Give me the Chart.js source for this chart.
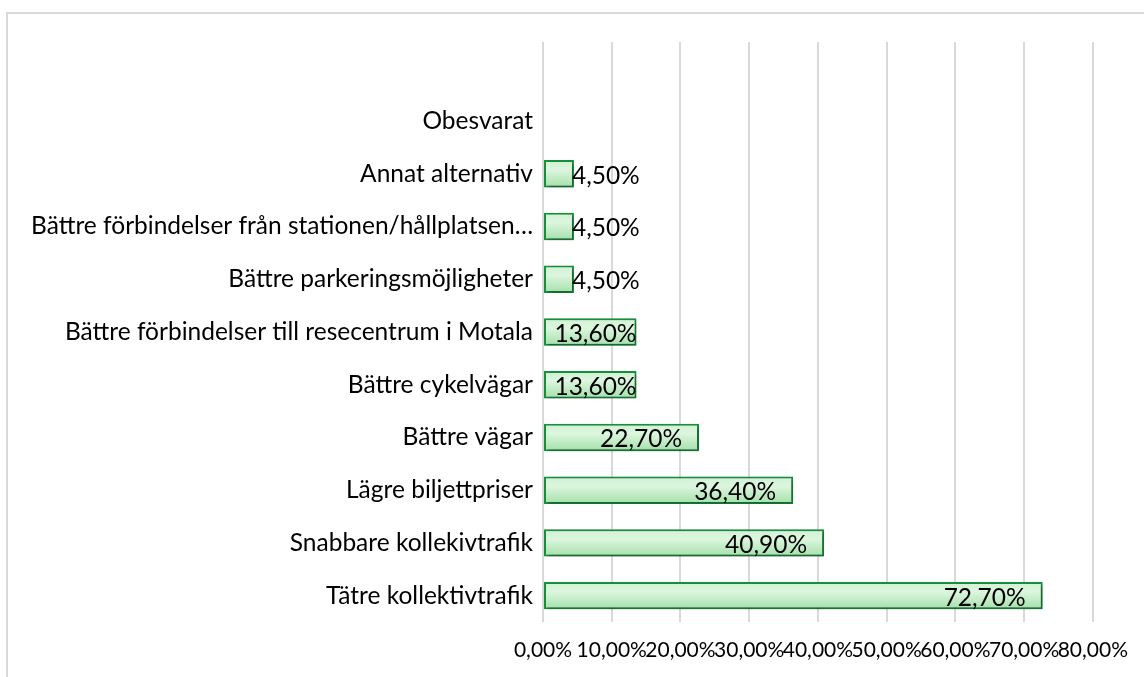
<!DOCTYPE html>
<html>
<head>
<meta charset="utf-8">
<title>Förbättringar</title>
<script src="https://cdn.jsdelivr.net/npm/chart.js@4.4.1/dist/chart.umd.min.js"></script>
<style>
    html, body { margin: 0; padding: 0; background: #fff; overflow: hidden; }
    #frame {
        position: absolute; left: 6px; top: 12px; width: 1200px; height: 700px;
        border-left: 2px solid #d9d9d9; border-top: 2px solid #d9d9d9;
    }
    #wrap { position: absolute; left: 0; top: 0; width: 1144px; height: 677px; }
</style>
</head>
<body>
<div id="frame"></div>
<div id="wrap"><canvas id="improvementChart"></canvas></div>
<script>
// Answer options, top to bottom (first row is an empty spacer row)
const categories = [
    '',
    'Obesvarat',
    'Annat alternativ',
    'Bättre förbindelser från stationen/hållplatsen…',
    'Bättre parkeringsmöjligheter',
    'Bättre förbindelser till resecentrum i Motala',
    'Bättre cykelvägar',
    'Bättre vägar',
    'Lägre biljettpriser',
    'Snabbare kollekivtrafik',
    'Tätre kollektivtrafik'
];
// Share of respondents, in percent
const shares = [null, null, 4.5, 4.5, 4.5, 13.6, 13.6, 22.7, 36.4, 40.9, 72.7];
const xTicks = [0, 10, 20, 30, 40, 50, 60, 70, 80];

const FONT = { family: 'Lato', size: 24.5 };
const TICK_FONT = { family: 'Lato', size: 21 };
const BAR_PCT = 0.52;
const LABEL_PAD = 17;

function pct(v) {
    return v.toFixed(2).replace('.', ',') + '%';
}

// vertical gradient for each bar, built from the bar's own band on the y scale
function barGradient(context) {
    const chart = context.chart;
    const y = chart.scales.y;
    if (!chart.chartArea || !y) return '#c8efcc';
    const yc = y.getPixelForValue(context.dataIndex);
    const half = (chart.chartArea.height / categories.length) * BAR_PCT / 2;
    const g = chart.ctx.createLinearGradient(0, yc - half, 0, yc + half);
    g.addColorStop(0, '#cff1d2');
    g.addColorStop(0.35, '#ddf6df');
    g.addColorStop(1, '#a3e0a9');
    return g;
}

const barShadow = {
    id: 'barShadow',
    beforeDatasetsDraw(chart) {
        const ctx = chart.ctx;
        ctx.save();
        ctx.shadowColor = 'rgba(0,0,0,0.35)';
        ctx.shadowBlur = 4;
        ctx.shadowOffsetX = 2;
        ctx.shadowOffsetY = 2;
    },
    afterDatasetsDraw(chart) {
        chart.ctx.restore();
    }
};

// value labels: inside the bar end when they fit, pushed past it when they don't
const valueLabels = {
    id: 'valueLabels',
    afterDraw(chart) {
        const ctx = chart.ctx;
        const meta = chart.getDatasetMeta(0);
        ctx.save();
        ctx.font = FONT.size + 'px ' + FONT.family;
        ctx.fillStyle = '#000';
        ctx.textBaseline = 'middle';
        meta.data.forEach((bar, i) => {
            const v = shares[i];
            if (v == null) return;
            const text = pct(v);
            const w = ctx.measureText(text).width;
            const right = bar.x;
            const len = right - bar.base;
            if (w + 2 * LABEL_PAD <= len) {
                ctx.textAlign = 'right';
                ctx.fillText(text, right - LABEL_PAD, bar.y + 2);
            } else if (w + 2 <= len) {
                ctx.textAlign = 'right';
                ctx.fillText(text, right, bar.y + 2);
            } else {
                ctx.textAlign = 'left';
                ctx.fillText(text, right - 2, bar.y + 2);
            }
        });
        ctx.restore();
    }
};

const chart = new Chart(document.getElementById('improvementChart'), {
    type: 'bar',
    data: {
        labels: categories,
        datasets: [{
            data: shares,
            backgroundColor: barGradient,
            borderColor: '#17923f',
            borderWidth: 2,
            borderSkipped: false,
            barPercentage: BAR_PCT,
            categoryPercentage: 1
        }]
    },
    options: {
        indexAxis: 'y',
        responsive: true,
        maintainAspectRatio: false,
        animation: false,
        layout: { padding: { top: 42, right: 50, left: 0, bottom: 0 } },
        plugins: {
            legend: { display: false },
            tooltip: { enabled: false }
        },
        scales: {
            x: {
                min: xTicks[0],
                max: xTicks[xTicks.length - 1],
                afterBuildTicks(scale) {
                    scale.ticks = xTicks.map(v => ({ value: v }));
                },
                afterFit(scale) { scale.height = 55; },
                grid: { color: '#d9d9d9', lineWidth: 2, drawTicks: false },
                border: { display: false },
                ticks: {
                    autoSkip: false,
                    maxRotation: 0,
                    padding: 16,
                    color: '#000',
                    font: TICK_FONT,
                    callback: v => pct(v)
                }
            },
            y: {
                afterFit(scale) { scale.width = 543; },
                grid: { display: false, drawTicks: false },
                border: { display: false },
                ticks: {
                    autoSkip: false,
                    padding: 10,
                    color: '#000',
                    font: FONT
                }
            }
        }
    },
    plugins: [barShadow, valueLabels]
});
</script>
</body>
</html>
